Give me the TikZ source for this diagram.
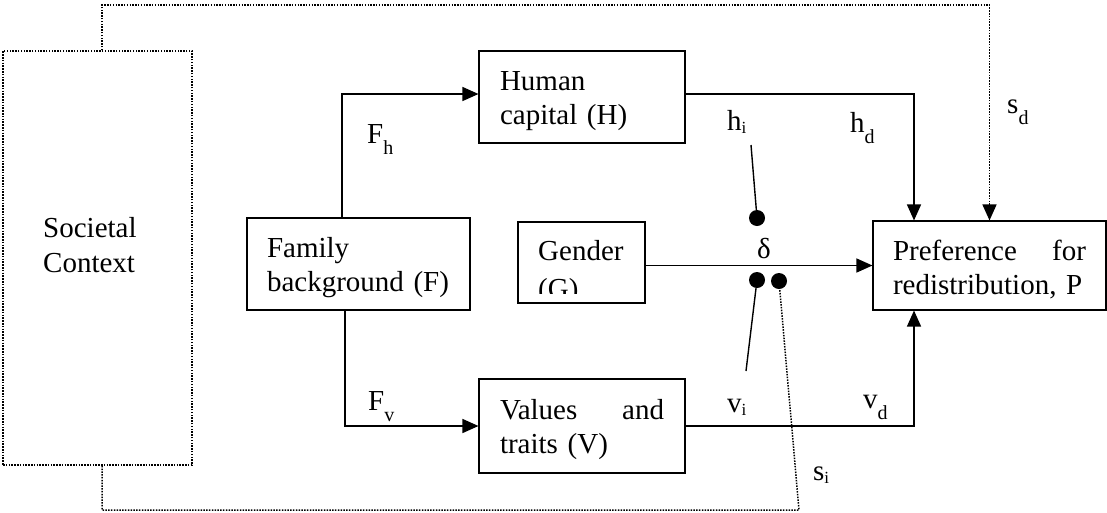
\documentclass[tikz,border=0pt]{standalone}
\usepackage{fontspec}
\setmainfont{Liberation Serif}
\usetikzlibrary{arrows.meta,calc}
\newcommand\dsub[1]{\raisebox{-11pt}{\fontsize{20}{20}\selectfont #1}}
\newcommand\isub[1]{\raisebox{-3pt}{\fontsize{17}{17}\selectfont #1}}
\newcommand\tstrut{\rule{0pt}{28pt}}
\begin{document}
\begin{tikzpicture}[x=1pt,y=-1pt,
  every node/.style={font=\fontsize{29}{34}\selectfont},
  box/.style={draw,line width=1.1pt,inner xsep=20pt,inner ysep=0pt,align=left},
  dotbox/.style={draw,line width=1.5pt,dash pattern=on 1.5pt off 1.3pt,inner sep=0pt},
  conn/.style={line width=1.4pt},
  dotline/.style={line width=1.5pt,dash pattern=on 1.5pt off 1.3pt},
  tri/.style={-{Triangle[length=16pt,width=14pt]}},
  dot/.style={circle,fill=black,inner sep=0pt,minimum size=16pt},
  lab/.style={anchor=base west,inner sep=0pt}]
\useasboundingbox (0,0) rectangle (1107,512);

% boxes
\node[dotbox,minimum width=189pt,minimum height=414pt] (S) at (97.5,258) {};
\node[lab] (st1) at (43,237) {Societal};
\node[lab] (st2) at (43,272) {Context};

\node[box,text width=183pt,minimum height=92pt] (F) at (358.5,264) {\tstrut Family\\background (F)};
\node[box,inner xsep=21pt,text width=164pt,minimum height=92pt] (H) at (582,97) {\tstrut Human\\capital (H)};
\node[box,inner xsep=21pt,text width=164pt,minimum height=94pt] (V) at (582,426) {\tstrut Values\hfill and\\traits (V)};
\node[box,text width=193pt,minimum height=89pt] (P) at (989.5,265.5) {\tstrut Preference\hfill for\\redistribution, P};

\node[draw,line width=1.1pt,minimum width=127pt,minimum height=81pt,inner sep=0pt] (G) at (581.5,262.5) {};
\begin{scope}
  \clip (519,223) rectangle (644,293);
  \node[lab] (gt1) at (538,260) {Gender};
  \node[lab] (gt2) at (538,298) {(G)};
\end{scope}

% dots and free ends
\node[dot] (hi) at (757,218) {};
\node[dot] (vi) at (757,280) {};
\node[dot] (si) at (779,281) {};
\coordinate (hiend) at (751,145);
\coordinate (viend) at (746,371);
\coordinate (tl) at (102,5);
\coordinate (tr) at (989.5,5);
\coordinate (bl) at (102,510);
\coordinate (br) at (799,510);

% connectors
\draw[conn,tri] ([xshift=-16.5pt]F.north) |- ([yshift=3pt]H.west);
\draw[conn,tri] ([xshift=-13.5pt]F.south) |- (V.west);
\draw[conn,tri] ([yshift=3pt]H.east) -| ([xshift=-75.5pt]P.north);
\draw[conn,tri] (V.east) -| ([xshift=-75.5pt]P.south);
\draw[conn,tri] (G.east |- P.west) -- (P.west);
\draw[conn] (hiend) -- (hi);
\draw[conn] (vi) -- (viend);
\draw[dotline,tri] ([xshift=4.5pt]S.north) -- (tl) -- (tr) -- (P.north);
\draw[dotline] ([xshift=4.5pt]S.south) -- (bl) -- (br) -- (si);

% labels
\node[lab] (lfh) at (367,143) {F\dsub{h}};
\node[lab] (lfv) at (368,410) {F\dsub{v}};
\node[lab] (lhi) at (727,130) {h\isub{i}};
\node[lab] (lhd) at (850,132) {h\dsub{d}};
\node[lab] (lsd) at (1007,113) {s\dsub{d}};
\node[anchor=base,inner sep=0pt] (ldl) at (764,258) {δ};
\node[lab] (lvi) at (727,412) {v\isub{i}};
\node[lab] (lvd) at (863,408) {v\dsub{d}};
\node[lab] (lsi) at (813,480) {s\isub{i}};
\end{tikzpicture}
\end{document}
